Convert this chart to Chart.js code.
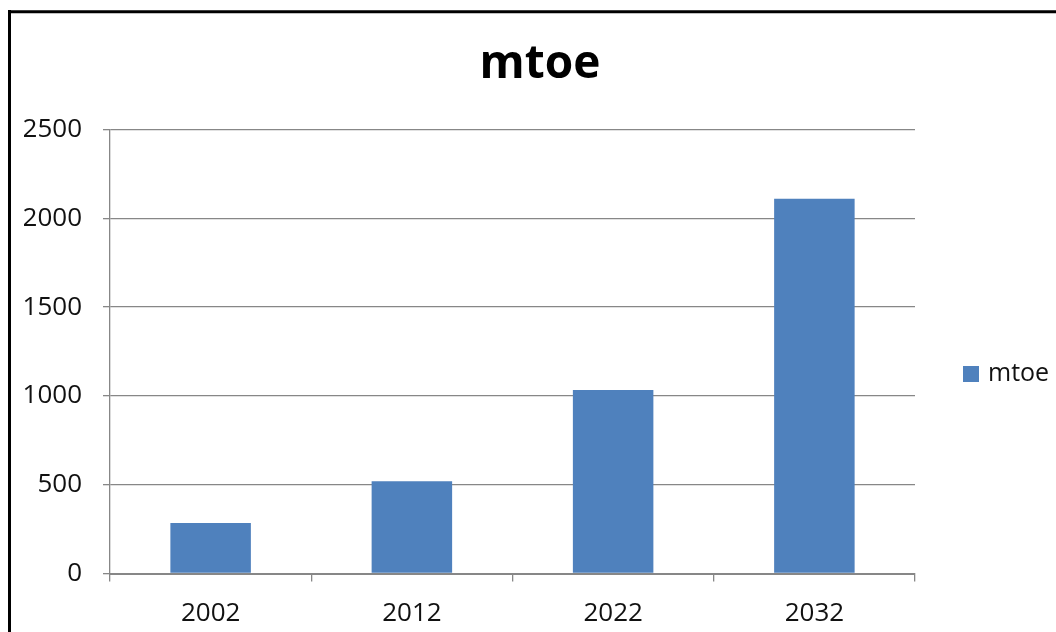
<!DOCTYPE html>
<html>
<head>
<meta charset="utf-8">
<title>mtoe</title>
<script src="https://cdn.jsdelivr.net/npm/chart.js@4/dist/chart.umd.min.js"></script>
<style>
  html, body { margin: 0; padding: 0; background: #ffffff; }
  #wrap { width: 1056px; height: 632px; }
</style>
</head>
<body>
<div id="wrap"><canvas id="c" width="1056" height="632"></canvas></div>
<script>
// Energy demand (million tonnes of oil equivalent) by year
const years = ['2002', '2012', '2022', '2032'];
const mtoe = [285, 520, 1033, 2110];
const seriesName = 'mtoe';
const yTicks = [0, 500, 1000, 1500, 2000, 2500];

const FONT = '"Open Sans", "DejaVu Sans", sans-serif';
const BAR = '#4F81BD';
const GRID = '#878787';

// Outer frame: thick black edges along the top and left of the canvas
const framePlugin = {
  id: 'frame',
  afterDraw(chart) {
    const ctx = chart.ctx;
    ctx.save();
    ctx.strokeStyle = '#000';
    ctx.lineWidth = 3;
    ctx.beginPath();
    ctx.moveTo(9.5, 10);
    ctx.lineTo(9.5, chart.height);
    ctx.moveTo(8, 11.8);
    ctx.lineTo(chart.width, 11.8);
    ctx.stroke();
    ctx.restore();
  }
};

// Legend to the right of the plot, built from the dataset entries
const sideLegend = {
  id: 'sideLegend',
  afterDraw(chart) {
    const ctx = chart.ctx;
    const area = chart.chartArea;
    ctx.save();
    chart.data.datasets.forEach((ds, i) => {
      const x = area.right + 48;
      const y = 374 + i * 30;
      ctx.fillStyle = ds.backgroundColor;
      ctx.fillRect(x, y - 8, 16, 16);
      ctx.fillStyle = '#111';
      ctx.font = '25px ' + FONT;
      ctx.textBaseline = 'middle';
      ctx.textAlign = 'left';
      ctx.fillText(ds.label, x + 25, y);
    });
    ctx.restore();
  }
};

new Chart(document.getElementById('c'), {
  type: 'bar',
  data: {
    labels: years,
    datasets: [{
      label: seriesName,
      data: mtoe,
      backgroundColor: BAR,
      borderWidth: 0,
      barPercentage: 0.8,
      categoryPercentage: 0.5
    }]
  },
  options: {
    responsive: false,
    animation: false,
    devicePixelRatio: 1,
    layout: { padding: { left: 24, right: 0, top: 0, bottom: 0 } },
    plugins: {
      legend: { display: false },
      tooltip: { enabled: false },
      title: {
        display: true,
        text: seriesName,
        color: '#000',
        font: { family: FONT, size: 46, weight: 'bold', lineHeight: 1.2 },
        padding: { top: 37, bottom: 37.3 }
      }
    },
    scales: {
      x: {
        grid: {
          offset: true,
          drawOnChartArea: false,
          color: GRID,
          lineWidth: 1.3,
          tickLength: 8
        },
        border: { color: GRID, width: 2 },
        ticks: {
          color: '#111',
          font: { family: FONT, size: 26 },
          padding: 16,
          maxRotation: 0
        },
        afterFit(scale) { scale.height = 58.5; }
      },
      y: {
        min: 0,
        max: 2500,
        afterBuildTicks(scale) { scale.ticks = yTicks.map(v => ({ value: v })); },
        grid: {
          color: GRID,
          lineWidth: 1.3,
          tickLength: 7
        },
        border: { color: GRID, width: 1.3 },
        ticks: {
          color: '#111',
          font: { family: FONT, size: 26 },
          padding: 21,
          callback: (v) => String(v)
        },
        afterFit(scale) { scale.width = 86; }
      },
      // empty right-hand strip that holds the legend
      side: {
        type: 'linear',
        position: 'right',
        grid: { display: false },
        border: { display: false },
        ticks: { display: false },
        afterFit(scale) { scale.width = 141; }
      }
    }
  },
  plugins: [framePlugin, sideLegend]
});
</script>
</body>
</html>
